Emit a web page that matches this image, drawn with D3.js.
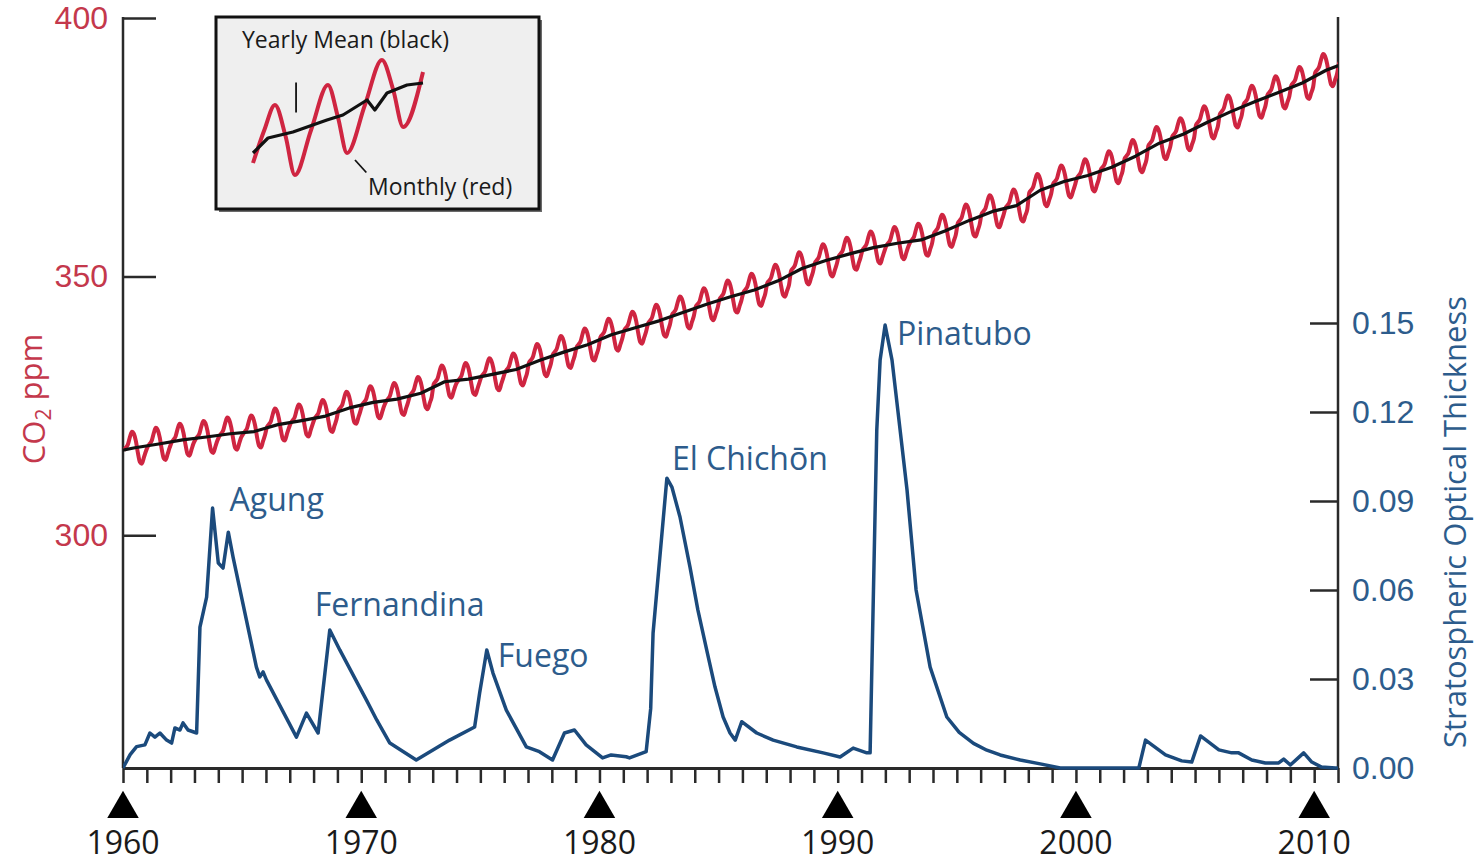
<!DOCTYPE html>
<html>
<head>
<meta charset="utf-8">
<script src="https://cdn.jsdelivr.net/npm/d3@7"></script>
<style>
    body { margin: 0; background: #fff; }
    svg { display: block; font-family: "Open Sans", sans-serif; }
</style>
</head>
<body>
<div id="chart"></div>
<script>
// Mauna Loa CO2, annual means (ppm)
const co2Years = d3.range(1959, 2012);
const co2Annual = [
    315.97, 316.91, 317.64, 318.45, 318.99, 319.62, 320.04, 321.38, 322.16, 323.04,
    324.62, 325.68, 326.32, 327.45, 329.68, 330.18, 331.11, 332.04, 333.83, 335.40,
    336.84, 338.75, 340.11, 341.45, 343.05, 344.65, 346.12, 347.42, 349.19, 351.57,
    353.12, 354.39, 355.61, 356.45, 357.10, 358.83, 360.82, 362.61, 363.73, 366.70,
    368.38, 369.55, 371.14, 373.28, 375.80, 377.52, 379.80, 381.90, 383.79, 385.60,
    387.43, 389.90, 391.65
];
// monthly departure from the annual mean (Jan..Dec)
const co2Seasonal = [-0.48, 0.06, 0.67, 2.11, 3.12, 2.68, 1.27, -1.00, -2.75, -3.08, -1.91, -0.72];

// stratospheric aerosol optical thickness
const aodYears = [
    1960.00, 1960.30, 1960.57, 1960.92, 1961.13, 1961.34, 1961.55, 1961.83, 1962.04, 1962.18,
    1962.39, 1962.52, 1962.73, 1963.09, 1963.23, 1963.51, 1963.76, 1964.00, 1964.20, 1964.42,
    1964.62, 1965.60, 1965.74, 1965.88, 1966.02, 1967.28, 1967.70, 1968.19, 1968.68, 1969.10,
    1970.22, 1970.65, 1971.20, 1972.31, 1973.71, 1974.76, 1974.97, 1975.27, 1975.53, 1976.09,
    1976.93, 1977.48, 1978.03, 1978.53, 1978.95, 1979.44, 1980.13, 1980.49, 1981.12, 1981.26,
    1981.96, 1982.15, 1982.25, 1982.83, 1983.04, 1983.38, 1983.80, 1984.13, 1984.50, 1984.85,
    1985.19, 1985.48, 1985.70, 1985.97, 1986.60, 1987.29, 1988.28, 1989.39, 1990.10, 1990.65,
    1991.22, 1991.36, 1991.64, 1991.78, 1991.99, 1992.28, 1992.62, 1992.91, 1993.29, 1993.88,
    1994.58, 1995.10, 1995.70, 1996.26, 1996.82, 1997.66, 1998.50, 1999.34, 2002.64, 2002.92,
    2003.76, 2004.44, 2004.86, 2005.23, 2006.00, 2006.54, 2006.83, 2007.38, 2007.95, 2008.51,
    2008.72, 2009.00, 2009.56, 2009.90, 2010.31, 2010.89, 2011.00
];
const aodValues = [
    0.0000, 0.0045, 0.0072, 0.0078, 0.0118, 0.0104, 0.0118, 0.0094, 0.0084, 0.0135,
    0.0128, 0.0152, 0.0128, 0.0118, 0.0475, 0.0576, 0.0876, 0.0691, 0.0674, 0.0795,
    0.0711, 0.0340, 0.0307, 0.0324, 0.0297, 0.0104, 0.0185, 0.0118, 0.0465, 0.0398,
    0.0229, 0.0162, 0.0084, 0.0027, 0.0094, 0.0138, 0.0253, 0.0398, 0.0320, 0.0195,
    0.0071, 0.0055, 0.0027, 0.0118, 0.0128, 0.0078, 0.0034, 0.0044, 0.0038, 0.0034,
    0.0055, 0.0200, 0.0455, 0.0977, 0.0947, 0.0846, 0.0677, 0.0533, 0.0398, 0.0273,
    0.0172, 0.0118, 0.0094, 0.0156, 0.0118, 0.0094, 0.0071, 0.0051, 0.0037, 0.0067,
    0.0051, 0.0051, 0.1139, 0.1375, 0.1493, 0.1375, 0.1139, 0.0937, 0.0600, 0.0340,
    0.0172, 0.0120, 0.0083, 0.0060, 0.0044, 0.0027, 0.0014, 0.0000, 0.0000, 0.0094,
    0.0044, 0.0024, 0.0020, 0.0108, 0.0061, 0.0051, 0.0051, 0.0027, 0.0017, 0.0017,
    0.0030, 0.0010, 0.0051, 0.0020, 0.0003, 0.0000, 0.0000
];

const volcanoNames = ["Agung", "Fernandina", "Fuego", "El Chichōn", "Pinatubo"];
const volcanoPeakYears = [1963.76, 1968.68, 1975.27, 1982.83, 1991.99];

const co2TickValues = [300, 350, 400];
const aodTickValues = [0, 0.03, 0.06, 0.09, 0.12, 0.15];
const yearTicks = d3.range(1960, 2012);
const decadeTicks = [1960, 1970, 1980, 1990, 2000, 2010];

// inset legend sketch (arbitrary units)
const insetRedT = [0, 0.8, 1.55, 2.3, 2.96, 4.1, 5.29, 6.0, 6.64, 7.9, 9.1, 9.9, 10.6, 12];
const insetRedV = [13.6, 40, 60, 35, 4, 40, 76, 50, 21.6, 60, 96, 72, 42.4, 86.4];
const insetBlackT = [0, 1.06, 2.82, 5.22, 6.35, 8.05, 8.6, 9.46, 10.87, 12];
const insetBlackV = [21.6, 33.6, 38.4, 48, 52, 64, 56, 69.6, 76, 77.6];

class CO2VolcanoChart {
    constructor(parentElement) {
        this.parentElement = parentElement;
        this.initVis();
    }

    initVis() {
        const vis = this;

        vis.WIDTH = 1476;
        vis.HEIGHT = 864;
        vis.PLOT = { LEFT: 123, RIGHT: 1338, TOP: 18, BOTTOM: 768 };
        vis.RED = "#cf2541";
        vis.RED_TEXT = "#c4384c";
        vis.BLUE = "#1b4a7c";
        vis.BLUE_TEXT = "#2d5c8c";
        vis.AXIS = "#2a2a2a";

        vis.svg = d3.select(vis.parentElement).append("svg")
            .attr("width", vis.WIDTH)
            .attr("height", vis.HEIGHT);

        vis.x = d3.scaleLinear().domain([1960, 2011]).range([vis.PLOT.LEFT, vis.PLOT.RIGHT]);
        vis.yCO2 = d3.scaleLinear().domain([255, 400]).range([vis.PLOT.BOTTOM, vis.PLOT.TOP]);
        vis.yAOD = d3.scaleLinear().domain([0, 0.15]).range([vis.PLOT.BOTTOM, 323]);

        vis.svg.append("clipPath").attr("id", "plot-clip")
            .append("rect")
            .attr("x", vis.PLOT.LEFT)
            .attr("y", 0)
            .attr("width", vis.PLOT.RIGHT - vis.PLOT.LEFT)
            .attr("height", vis.PLOT.BOTTOM + 2);

        vis.addAxes();
        vis.addAerosol();
        vis.addCO2();
        vis.addInset();
    }

    addAxes() {
        const vis = this;

        // left CO2 axis, ticks pointing inward
        const left = vis.svg.append("g")
            .attr("class", "y-axis-left")
            .attr("transform", `translate(${vis.PLOT.LEFT},0)`)
            .call(d3.axisLeft(vis.yCO2).tickValues(co2TickValues)
                .tickSizeInner(-33).tickSizeOuter(0).tickPadding(15));
        left.select(".domain").remove();
        left.selectAll(".tick line").attr("stroke", vis.AXIS).attr("stroke-width", 2.5);
        left.selectAll(".tick text")
            .attr("fill", vis.RED_TEXT)
            .style("font-size", "32px");

        // right aerosol axis
        const right = vis.svg.append("g")
            .attr("class", "y-axis-right")
            .attr("transform", `translate(${vis.PLOT.RIGHT},0)`)
            .call(d3.axisRight(vis.yAOD).tickValues(aodTickValues).tickFormat(d3.format(".2f"))
                .tickSizeInner(-28).tickSizeOuter(0).tickPadding(14));
        right.select(".domain").remove();
        right.selectAll(".tick line").attr("stroke", vis.AXIS).attr("stroke-width", 2.5);
        right.selectAll(".tick text")
            .attr("fill", vis.BLUE_TEXT)
            .style("font-size", "32px");

        [vis.PLOT.LEFT, vis.PLOT.RIGHT].forEach(xPos => {
            vis.svg.append("line")
                .attr("x1", xPos).attr("x2", xPos)
                .attr("y1", vis.PLOT.TOP - 1).attr("y2", vis.PLOT.BOTTOM)
                .attr("stroke", vis.AXIS)
                .attr("stroke-width", 2.5);
        });

        // bottom year axis
        const bottom = vis.svg.append("g")
            .attr("class", "x-axis")
            .attr("transform", `translate(0,${vis.PLOT.BOTTOM})`)
            .call(d3.axisBottom(vis.x).tickValues(yearTicks).tickFormat("")
                .tickSizeInner(15).tickSizeOuter(0));
        bottom.select(".domain").attr("stroke", vis.AXIS).attr("stroke-width", 3);
        bottom.selectAll(".tick line").attr("stroke", vis.AXIS).attr("stroke-width", 2.5);

        vis.svg.selectAll(".decade-marker")
            .data(decadeTicks)
            .join("path")
            .attr("class", "decade-marker")
            .attr("d", d3.symbol(d3.symbolTriangle, 430))
            .attr("transform", d => `translate(${vis.x(d)},${809})`)
            .attr("fill", "#000");

        vis.svg.selectAll(".decade-label")
            .data(decadeTicks)
            .join("text")
            .attr("class", "decade-label")
            .attr("x", d => vis.x(d))
            .attr("y", 854)
            .attr("text-anchor", "middle")
            .attr("fill", "#1a1a1a")
            .style("font-size", "32px")
            .text(d => d);

        // axis titles
        const co2Title = vis.svg.append("text")
            .attr("transform", `translate(45,${399}) rotate(-90)`)
            .attr("text-anchor", "middle")
            .attr("fill", vis.RED_TEXT)
            .style("font-size", "31px");
        co2Title.append("tspan").text("CO");
        co2Title.append("tspan").attr("dy", "0.3em").style("font-size", "21px").text("2");
        co2Title.append("tspan").attr("dy", "-0.3em").text(" ppm");

        vis.svg.append("text")
            .attr("transform", `translate(1466,${522}) rotate(-90)`)
            .attr("text-anchor", "middle")
            .attr("fill", vis.BLUE_TEXT)
            .style("font-size", "31px")
            .text("Stratospheric Optical Thickness");
    }

    addAerosol() {
        const vis = this;
        const aod = aodYears.map((yr, i) => ({ year: yr, value: aodValues[i] }));

        vis.svg.append("path")
            .datum(aod)
            .attr("clip-path", "url(#plot-clip)")
            .attr("fill", "none")
            .attr("stroke", vis.BLUE)
            .attr("stroke-width", 3.5)
            .attr("stroke-linejoin", "round")
            .attr("d", d3.line().x(d => vis.x(d.year)).y(d => vis.yAOD(d.value)));

        // label offsets from each eruption peak
        const labelOffsets = [[17, 3], [-15, -14], [11, 17], [5, -8], [12, 20]];
        vis.svg.selectAll(".volcano-label")
            .data(volcanoNames)
            .join("text")
            .attr("class", "volcano-label")
            .attr("x", (d, i) => vis.x(volcanoPeakYears[i]) + labelOffsets[i][0])
            .attr("y", (d, i) => {
                const idx = aodYears.indexOf(volcanoPeakYears[i]);
                return vis.yAOD(aodValues[idx]) + labelOffsets[i][1];
            })
            .attr("fill", vis.BLUE_TEXT)
            .style("font-size", "32px")
            .text(d => d);
    }

    addCO2() {
        const vis = this;

        const monthly = [];
        co2Years.forEach((yr, i) => {
            co2Seasonal.forEach((s, m) => {
                monthly.push({ year: yr + (m + 0.5) / 12, value: co2Annual[i] + s });
            });
        });
        const yearly = co2Years.map((yr, i) => ({ year: yr + 0.5, value: co2Annual[i] }));

        const line = d3.line()
            .x(d => vis.x(d.year))
            .y(d => vis.yCO2(d.value));

        vis.svg.append("path")
            .datum(monthly.filter(d => d.year >= 1960))
            .attr("clip-path", "url(#plot-clip)")
            .attr("fill", "none")
            .attr("stroke", vis.RED)
            .attr("stroke-width", 4)
            .attr("stroke-linejoin", "round")
            .attr("d", line.curve(d3.curveMonotoneX));

        vis.svg.append("path")
            .datum(yearly)
            .attr("clip-path", "url(#plot-clip)")
            .attr("fill", "none")
            .attr("stroke", "#111")
            .attr("stroke-width", 3.2)
            .attr("stroke-linejoin", "round")
            .attr("d", d3.line().x(d => vis.x(d.year)).y(d => vis.yCO2(d.value)));
    }

    addInset() {
        const vis = this;
        const box = { x: 216, y: 17, w: 323, h: 192 };

        const g = vis.svg.append("g").attr("class", "inset");

        g.append("rect")
            .attr("x", box.x + 3).attr("y", box.y + 3)
            .attr("width", box.w).attr("height", box.h)
            .attr("fill", "#6a6a6a");
        g.append("rect")
            .attr("x", box.x).attr("y", box.y)
            .attr("width", box.w).attr("height", box.h)
            .attr("fill", "#efefef")
            .attr("stroke", "#111")
            .attr("stroke-width", 3);

        const ix = d3.scaleLinear().domain([0, 12]).range([253, 423]);
        const iy = d3.scaleLinear().domain([0, 100]).range([180, 55]);

        const red = insetRedT.map((t, i) => [t, insetRedV[i]]);
        const black = insetBlackT.map((t, i) => [t, insetBlackV[i]]);

        g.append("path")
            .datum(red)
            .attr("fill", "none")
            .attr("stroke", vis.RED)
            .attr("stroke-width", 4)
            .attr("d", d3.line().x(d => ix(d[0])).y(d => iy(d[1])).curve(d3.curveMonotoneX));

        g.append("path")
            .datum(black)
            .attr("fill", "none")
            .attr("stroke", "#111")
            .attr("stroke-width", 3.2)
            .attr("stroke-linejoin", "round")
            .attr("d", d3.line().x(d => ix(d[0])).y(d => iy(d[1])));

        // leader lines
        g.append("line")
            .attr("x1", ix(3.04)).attr("x2", ix(3.04))
            .attr("y1", iy(78)).attr("y2", iy(54))
            .attr("stroke", "#111").attr("stroke-width", 1.8);
        g.append("line")
            .attr("x1", ix(7.2)).attr("x2", ix(8.0))
            .attr("y1", iy(16)).attr("y2", iy(6))
            .attr("stroke", "#111").attr("stroke-width", 1.8);

        g.append("text")
            .attr("x", 242).attr("y", 48)
            .attr("fill", "#1a1a1a")
            .style("font-size", "23px")
            .text("Yearly Mean (black)");
        g.append("text")
            .attr("x", 368).attr("y", 195)
            .attr("fill", "#1a1a1a")
            .style("font-size", "23px")
            .text("Monthly (red)");
    }
}

new CO2VolcanoChart("#chart");
</script>
</body>
</html>
